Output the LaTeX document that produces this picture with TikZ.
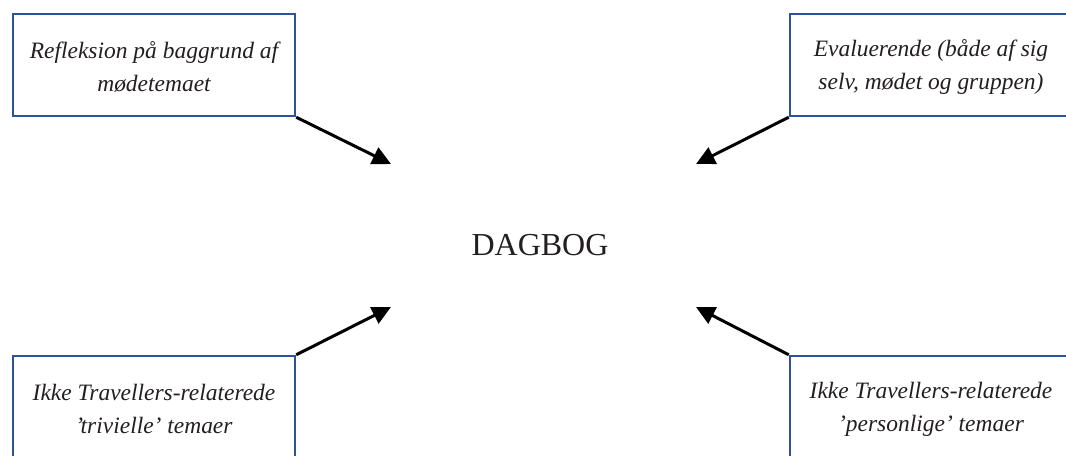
\documentclass[tikz,border=0pt]{standalone}
\usepackage{fontspec}
\setmainfont{Liberation Serif}
\usepackage{tikz}
\usetikzlibrary{arrows.meta}

\definecolor{boxblue}{RGB}{47,82,150}
\definecolor{inkgray}{RGB}{35,31,32}

\begin{document}
\begin{tikzpicture}[x=0.75pt,y=0.75pt,yscale=-1,xscale=1]
\tikzset{
  themebox/.style={draw=boxblue,line width=1.8pt,minimum width=211.5pt,minimum height=76.5pt,
    inner sep=0.75pt},
  themetext/.style={align=center,text=inkgray,inner sep=0.75pt,
    font=\fontsize{17.6}{24.75}\selectfont\itshape},
  feed/.style={line width=2.25pt,-{Triangle[length=14pt,width=13.5pt]}}
}
\useasboundingbox (0,0) rectangle (1066,455);

%Shape: Rectangle [id:refleksion]
\node [themebox] (refl) at (154,65) {};
%Shape: Rectangle [id:evaluerende]
\node [themebox] (eval) at (931,65) {};
%Shape: Rectangle [id:trivielle]
\node [themebox] (triv) at (154,407) {};
%Shape: Rectangle [id:personlige]
\node [themebox] (pers) at (931,407) {};

% Text Node (y axis is flipped, so positive yshift moves down)
\node [themetext] (reflT) at ([yshift=1.8pt]refl.center) {Refleksion på baggrund af\\mødetemaet};
% Text Node
\node [themetext] (evalT) at ([yshift=1.8pt]eval.center) {Evaluerende (både af sig\\selv, mødet og gruppen)};
% Text Node
\node [themetext] (trivT) at ([yshift=1.8pt]triv.center) {Ikke Travellers-relaterede\\’trivielle’ temaer};
% Text Node
\node [themetext] (persT) at ([yshift=1.8pt]pers.center) {Ikke Travellers-relaterede\\’personlige’ temaer};
% Text Node
\node [text=inkgray,font=\fontsize{24}{28}\selectfont] (dagbog) at (540,245) {DAGBOG};

% arrow tips
\coordinate (tipA) at (391,164);
\coordinate (tipB) at (696,164);
\coordinate (tipC) at (391,307);
\coordinate (tipD) at (696,307);

%Straight Lines
\draw [feed] (refl.south east) -- (tipA);
\draw [feed] (eval.south west) -- (tipB);
\draw [feed] (triv.north east) -- (tipC);
\draw [feed] (pers.north west) -- (tipD);

\end{tikzpicture}
\end{document}
